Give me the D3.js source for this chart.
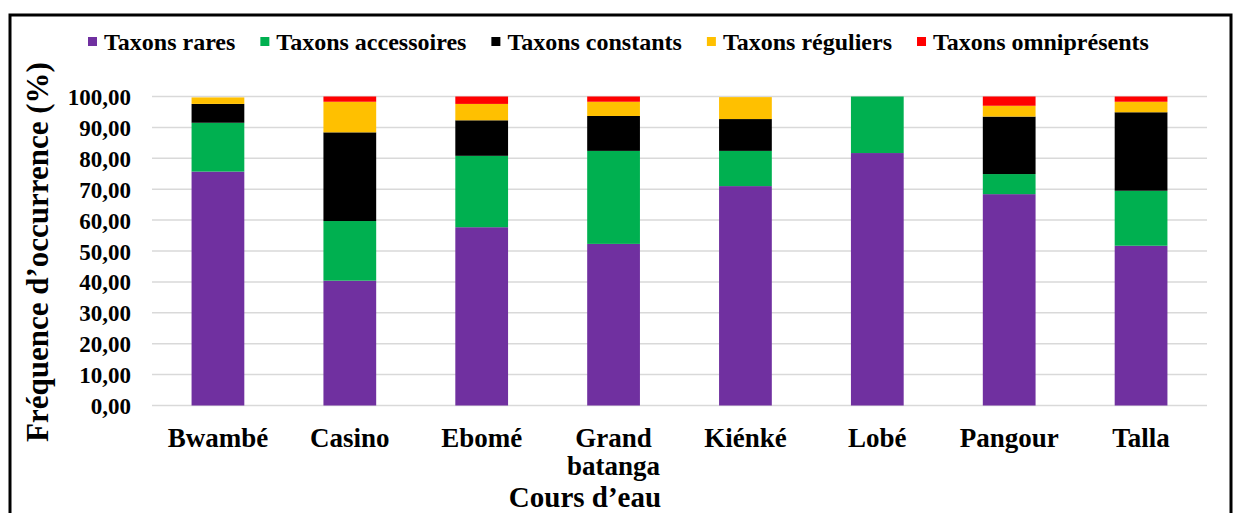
<!DOCTYPE html>
<html>
<head>
<meta charset="utf-8">
<script src="https://cdn.jsdelivr.net/npm/d3@7"></script>
<style>
  html, body { margin: 0; padding: 0; background: #fff; }
  svg text { font-family: "Liberation Serif", "Times New Roman", serif; font-weight: bold; fill: #000; }
</style>
</head>
<body>
<svg id="chart" width="1236" height="513"></svg>
<script>
const categories = ["Bwambé", "Casino", "Ebomé", "Grand batanga", "Kiénké", "Lobé", "Pangour", "Talla"];
const seriesNames = ["Taxons rares", "Taxons accessoires", "Taxons constants", "Taxons réguliers", "Taxons omniprésents"];
const seriesColors = ["#7030A0", "#00B050", "#000000", "#FFC000", "#FF0000"];
const rares       = [75.7, 40.4, 57.7, 52.3, 71.0, 81.7, 68.4, 51.7];
const accessoires = [15.8, 19.3, 23.1, 30.1, 11.4, 18.3, 6.5, 17.8];
const constants   = [6.1, 28.7, 11.5, 11.3, 10.3, 0.0, 18.6, 25.4];
const reguliers   = [2.1, 9.9, 5.3, 4.6, 7.1, 0.0, 3.5, 3.4];
const omnipresents = [0.0, 1.7, 2.4, 1.7, 0.0, 0.0, 3.0, 1.7];
const yTicks = [0, 10, 20, 30, 40, 50, 60, 70, 80, 90, 100];
const yTitle = "Fréquence d’occurrence (%)";
const xTitle = "Cours d’eau";

const seriesValues = [rares, accessoires, constants, reguliers, omnipresents];
const keys = seriesNames;
const table = categories.map((c, i) => {
  const row = { cat: c };
  keys.forEach((k, j) => row[k] = seriesValues[j][i]);
  return row;
});

const svg = d3.select("#chart");

// outer frame
svg.append("rect").attr("x", 10).attr("y", 15).attr("width", 1221).attr("height", 520)
  .attr("fill", "none").attr("stroke", "#000").attr("stroke-width", 3);

const x = d3.scaleBand().domain(categories).range([152, 1207]).paddingInner(0.6).paddingOuter(0.3);
const y = d3.scaleLinear().domain([0, 100]).range([405.5, 96.5]);

const loc = d3.formatLocale({ decimal: ",", thousands: " ", grouping: [3], currency: ["", ""] });
const fmt = loc.format(".2f");

// gridlines
svg.append("g").selectAll("line").data(yTicks).join("line")
  .attr("x1", 152).attr("x2", 1207)
  .attr("y1", d => y(d)).attr("y2", d => y(d))
  .attr("stroke", "#d9d9d9").attr("stroke-width", 1.5);

// y axis labels
const yAxis = d3.axisLeft(y).tickValues(yTicks).tickFormat(fmt).tickSize(0).tickPadding(0);
const gy = svg.append("g").attr("transform", "translate(131,0)").call(yAxis);
gy.select(".domain").remove();
gy.selectAll("text").style("font-family", '"Liberation Serif", serif').style("font-weight", "bold")
  .style("font-size", "23px").attr("fill", "#000").attr("dy", "0.35em");

// stacked bars
const stack = d3.stack().keys(keys)(table);
svg.append("g").selectAll("g").data(stack).join("g")
  .attr("fill", (d, i) => seriesColors[i])
  .selectAll("rect").data(d => d).join("rect")
  .attr("x", d => x(d.data.cat))
  .attr("width", x.bandwidth())
  .attr("y", d => y(d[1]))
  .attr("height", d => Math.max(0, y(d[0]) - y(d[1])));

// x labels
const xl = svg.append("g").selectAll("text").data(categories).join("text")
  .attr("x", d => x(d) + x.bandwidth() / 2)
  .attr("y", 447)
  .attr("text-anchor", "middle")
  .style("font-size", "27px");
xl.each(function(d) {
  const parts = d.split(" ");
  const t = d3.select(this);
  parts.forEach((p, i) => {
    t.append("tspan").attr("x", x(d) + x.bandwidth() / 2).attr("dy", i === 0 ? 0 : 28).text(p);
  });
});

// axis titles
svg.append("text").attr("x", 585).attr("y", 507).attr("text-anchor", "middle")
  .style("font-size", "29px").text(xTitle);
svg.append("text").attr("transform", "translate(48,252) rotate(-90)").attr("text-anchor", "middle")
  .style("font-size", "31px").text(yTitle);

// legend
const lg = svg.append("g");
let lx = 88;
seriesNames.forEach((name, i) => {
  lg.append("rect").attr("x", lx).attr("y", 37).attr("width", 9).attr("height", 9).attr("fill", seriesColors[i]);
  const t = lg.append("text").attr("x", lx + 16).attr("y", 50).style("font-size", "24px").text(name);
  const w = t.node().getComputedTextLength();
  lx = lx + 16 + w + 25;
});
</script>
</body>
</html>
